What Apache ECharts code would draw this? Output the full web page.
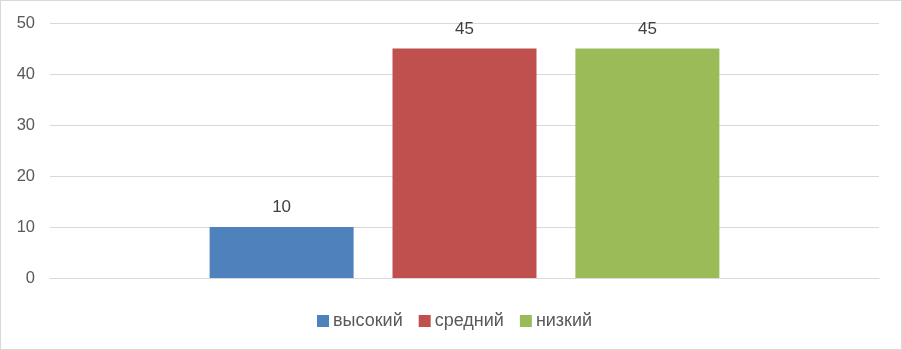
<!DOCTYPE html>
<html><head><meta charset="utf-8">
<script src="https://cdn.jsdelivr.net/npm/echarts@6/dist/echarts.min.js"></script>
<style>html,body{margin:0;padding:0;background:#fff}#c{width:902px;height:350px;box-sizing:border-box;border:1px solid #d9d9d9}</style>
</head><body><div id="c"></div>
<script>
var categories = [''];
var seriesNames = ['высокий', 'средний', 'низкий'];
var seriesValues = [[10], [45], [45]];
var seriesColors = ['#4f81bd', '#c0504d', '#9bbb59'];
var yTicks = {min: 0, max: 50, interval: 10};

var chart = echarts.init(document.getElementById('c'));
var font = 'Liberation Sans';
chart.setOption({
  animation: false,
  textStyle: {fontFamily: font},
  grid: {left: 49, right: 22, top: 22, bottom: 71},
  legend: {
    bottom: 14, left: 311, itemWidth: 12, itemHeight: 12, itemGap: 16,
    icon: 'rect',
    textStyle: {fontSize: 18, color: '#595959', fontFamily: font, padding: [0, 0, 0, -1]},
    data: seriesNames
  },
  xAxis: {
    type: 'category', data: categories,
    axisLine: {show: true, lineStyle: {color: '#d9d9d9'}},
    axisTick: {show: false}, axisLabel: {show: false}
  },
  yAxis: {
    type: 'value', min: yTicks.min, max: yTicks.max, interval: yTicks.interval,
    axisLine: {show: false}, axisTick: {show: false},
    axisLabel: {fontSize: 16.5, color: '#595959', margin: 15, fontFamily: font},
    splitLine: {lineStyle: {color: '#d9d9d9'}}
  },
  series: seriesNames.map(function (n, i) {
    return {
      name: n, type: 'bar', data: seriesValues[i],
      barWidth: 144, barGap: '27%',
      itemStyle: {color: seriesColors[i]},
      label: {show: true, position: 'top', distance: 11, fontSize: 17, color: '#404040', fontFamily: font}
    };
  })
});
</script></body></html>
